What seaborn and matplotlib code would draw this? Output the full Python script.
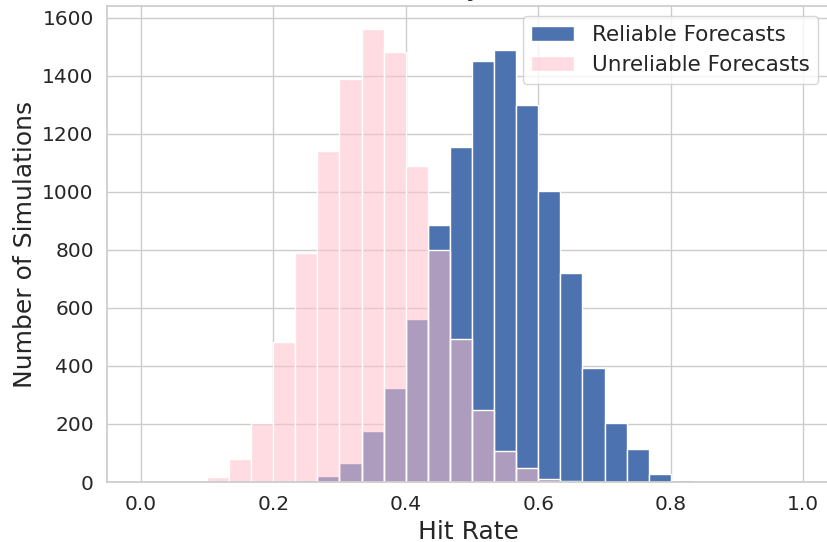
import numpy as np
import pandas as pd
import matplotlib
matplotlib.use("Agg")
import matplotlib.pyplot as plt
import seaborn as sns

# Histogram bins: 30 equal bins on [0, 1]
n_bins = 30
bin_edges = np.linspace(0.0, 1.0, n_bins + 1)
bin_centers = (bin_edges[:-1] + bin_edges[1:]) / 2

# Simulation counts per bin
reliable_counts = [0, 0, 0, 0, 0, 0, 0, 6, 20, 65,
                   174, 324, 562, 887, 1153, 1450, 1490, 1300, 1004, 721,
                   392, 205, 114, 29, 7, 0, 0, 0, 0, 0]
unreliable_counts = [0, 0, 0, 18, 78, 202, 483, 790, 1141, 1387,
                     1560, 1482, 1088, 801, 492, 248, 107, 47, 12, 4,
                     0, 0, 0, 0, 0, 0, 0, 0, 0, 0]

reliable = pd.DataFrame({"hit_rate": bin_centers, "count": reliable_counts})
unreliable = pd.DataFrame({"hit_rate": bin_centers, "count": unreliable_counts})

sns.set_theme(style="whitegrid")
plt.rcParams["font.family"] = ["DejaVu Sans"]

fig = plt.figure(figsize=(8.28, 5.42), dpi=100)
ax = fig.add_axes([107 / 828, 1 - 482 / 542, (829 - 107) / 828, (482 - 6) / 542])

sns.histplot(data=reliable, x="hit_rate", weights="count", bins=n_bins,
             binrange=(0, 1), color="#4C72B0", alpha=1.0, edgecolor="white",
             linewidth=1, label="Reliable Forecasts", ax=ax)
sns.histplot(data=unreliable, x="hit_rate", weights="count", bins=n_bins,
             binrange=(0, 1), color="pink", alpha=0.55, edgecolor="white",
             linewidth=1, label="Unreliable Forecasts", ax=ax)

ax.set_xlim(-0.0509, 1.0388)
ax.set_ylim(0, 1640)
ax.set_xticks([0.0, 0.2, 0.4, 0.6, 0.8, 1.0])
ax.set_yticks(range(0, 1601, 200))
ax.tick_params(axis="both", labelsize=14.5)
ax.set_xlabel("Hit Rate", fontsize=18)
ax.set_ylabel("Number of Simulations", fontsize=18)
ax.set_title("Monte Carlo Analysis of Hit Rates", fontsize=20, pad=8, x=0.4875)

ax.legend(loc="upper right", bbox_to_anchor=(818 / 828, 1 - 16 / 542),
          bbox_transform=fig.transFigure, borderaxespad=0, fontsize=15.5)

fig.savefig("out.png", dpi=100)
